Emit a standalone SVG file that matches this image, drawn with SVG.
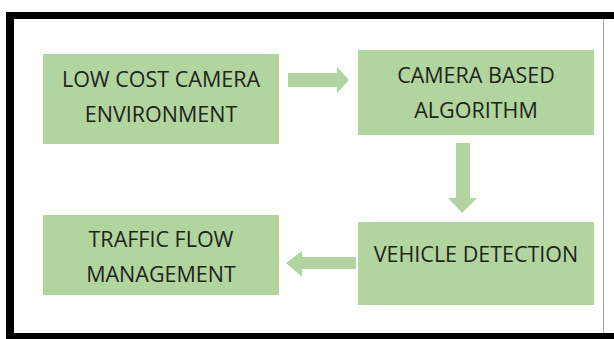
<svg xmlns="http://www.w3.org/2000/svg" width="614" height="339" viewBox="0 0 614 339">
<style>
.box{fill:#b2d49e}
.arr{fill:#b2d49e}
text{font-family:"Open Sans","Liberation Sans",sans-serif;font-size:21.5px;fill:#1c261c;text-anchor:middle}
</style>
<rect x="0" y="0" width="614" height="339" fill="#ffffff"/>
<path d="M6 339 V12 H614 V19 H14 V333 H614 V339 Z" fill="#000000"/>
<line x1="603.5" y1="19" x2="603.5" y2="333" stroke="#a0a0a0" stroke-width="1"/>
<g id="connectors">
<polygon class="arr" points="288,73 337,73 337,67 349,80 337,93 337,87 288,87"/>
<polygon class="arr" points="456,143 470,143 470,198 477,198 462,213 448,198 456,198"/>
<polygon class="arr" points="356,257 302,257 302,251 286,263 302,277 302,269 356,269"/>
</g>
<g id="node-low-cost">
<rect class="box" x="43" y="54" width="236" height="90"/>
<text x="161" y="87">LOW COST CAMERA</text>
<text x="161" y="122">ENVIRONMENT</text>
</g>
<g id="node-camera-based">
<rect class="box" x="358" y="50" width="236" height="85"/>
<text x="476" y="83">CAMERA BASED</text>
<text x="476" y="118">ALGORITHM</text>
</g>
<g id="node-vehicle">
<rect class="box" x="358" y="222" width="236" height="83"/>
<text x="476" y="262">VEHICLE DETECTION</text>
</g>
<g id="node-traffic">
<rect class="box" x="43" y="215" width="236" height="80"/>
<text x="161" y="247">TRAFFIC FLOW</text>
<text x="161" y="282">MANAGEMENT</text>
</g>
</svg>
